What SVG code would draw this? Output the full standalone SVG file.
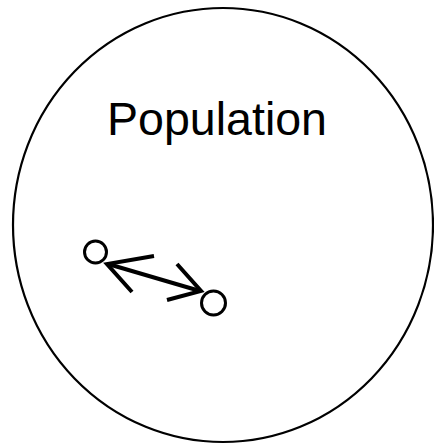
<svg xmlns="http://www.w3.org/2000/svg" width="434" height="445" viewBox="0 0 434 445">
<style>
.ln{fill:none;stroke:#000;stroke-linecap:butt;stroke-linejoin:miter}
.nd{fill:#fff;stroke:#000;stroke-width:3}
.lbl{font-family:"Liberation Sans",Arial,sans-serif;font-size:46px;fill:#000}
</style>
<rect width="434" height="445" fill="#fff"/>
<g id="population">
<ellipse cx="223" cy="225" rx="210" ry="217" class="ln" stroke-width="2.2"/>
<text x="107" y="135" class="lbl" textLength="220" lengthAdjust="spacingAndGlyphs">Population</text>
</g>
<g id="connectors">
<line x1="108" y1="264" x2="200" y2="291" class="ln" stroke-width="4"/>
<polyline points="154,256 107,264 132,292" class="ln" stroke-width="4"/>
<polyline points="177,264 201,291 167,300" class="ln" stroke-width="4"/>
</g>
<g id="node-a">
<circle cx="95.5" cy="252" r="11" class="nd"/>
</g>
<g id="node-b">
<circle cx="213.5" cy="303" r="12" class="nd"/>
</g>
</svg>
